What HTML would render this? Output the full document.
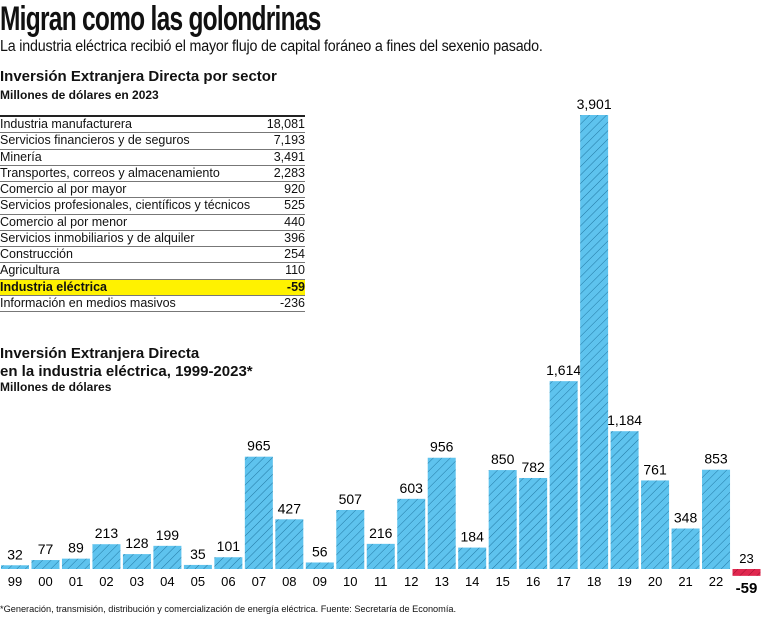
<!DOCTYPE html>
<html><head><meta charset="utf-8">
<style>
body{margin:0;width:762px;height:620px;overflow:hidden;background:#fff;font-family:"Liberation Sans",sans-serif;color:#111;position:relative}
.abs{position:absolute}
#title{left:0;top:2px;font-weight:bold;font-size:34px;letter-spacing:-1px;line-height:34px;transform:scaleX(0.72);transform-origin:0 0;white-space:nowrap}
#sub{left:0;top:38px;font-size:15.5px;letter-spacing:-0.2px;transform:scaleX(0.92);transform-origin:0 0;white-space:nowrap}
.h2{font-weight:bold;font-size:15px;line-height:18px;white-space:nowrap}
.h3{font-weight:bold;font-size:12px}
table{border-collapse:collapse;position:absolute;left:0;top:115px;width:305px;font-size:12.5px}
td{height:15.25px;padding:0;border-bottom:1px solid #777;line-height:15px}
tr:first-child td{border-top:2px solid #222}
td.v{text-align:right}
tr.hl td{background:#fff200;font-weight:bold}
</style></head><body>
<div id="title" class="abs">Migran como las golondrinas</div>
<div id="sub" class="abs">La industria eléctrica recibió el mayor flujo de capital foráneo a fines del sexenio pasado.</div>
<div class="abs h2" style="left:0;top:68px">Inversión Extranjera Directa por sector</div>
<div class="abs h3" style="left:0;top:88px">Millones de dólares en 2023</div>
<table>
<tr><td>Industria manufacturera</td><td class="v">18,081</td></tr>
<tr><td>Servicios financieros y de seguros</td><td class="v">7,193</td></tr>
<tr><td>Minería</td><td class="v">3,491</td></tr>
<tr><td>Transportes, correos y almacenamiento</td><td class="v">2,283</td></tr>
<tr><td>Comercio al por mayor</td><td class="v">920</td></tr>
<tr><td>Servicios profesionales, científicos y técnicos</td><td class="v">525</td></tr>
<tr><td>Comercio al por menor</td><td class="v">440</td></tr>
<tr><td>Servicios inmobiliarios y de alquiler</td><td class="v">396</td></tr>
<tr><td>Construcción</td><td class="v">254</td></tr>
<tr><td>Agricultura</td><td class="v">110</td></tr>
<tr class="hl"><td>Industria eléctrica</td><td class="v">-59</td></tr>
<tr><td>Información en medios masivos</td><td class="v">-236</td></tr>
</table>
<div class="abs h2" style="left:0;top:345px">Inversión Extranjera Directa<br>en la industria eléctrica, 1999-2023*</div>
<div class="abs h3" style="left:0;top:380px">Millones de dólares</div>
<div class="abs" style="left:0;top:604px;font-size:9.2px;white-space:nowrap">*Generación, transmisión, distribución y comercialización de energía eléctrica. Fuente: Secretaría de Economía.</div>
<svg id="chart" class="abs" style="left:0;top:0" width="762" height="620">
<defs>
<pattern id="hb" width="6" height="6" patternUnits="userSpaceOnUse" patternTransform="rotate(45)"><rect width="6" height="6" fill="#5ec3ee"/><line x1="0" y1="0" x2="0" y2="6" stroke="#2278a3" stroke-width="1"/></pattern>
<pattern id="hr" width="6" height="6" patternUnits="userSpaceOnUse" patternTransform="rotate(45)"><rect width="6" height="6" fill="#e0284f"/><line x1="0" y1="0" x2="0" y2="6" stroke="#a01030" stroke-width="1"/></pattern>
</defs>
</svg>
<script>
const years=["99","00","01","02","03","04","05","06","07","08","09","10","11","12","13","14","15","16","17","18","19","20","21","22","23"];
const values=[32,77,89,213,128,199,35,101,965,427,56,507,216,603,956,184,850,782,1614,3901,1184,761,348,853,-59];
const valueLabels=["32","77","89","213","128","199","35","101","965","427","56","507","216","603","956","184","850","782","1,614","3,901","1,184","761","348","853","-59"];
const svg=document.getElementById('chart');
const NS='http://www.w3.org/2000/svg';
const base=569, step=762/years.length, bw=28;
const yScale=v=>v*(454/3901);
const xScale=i=>i*step;
years.forEach((yr,i)=>{
  const v=values[i];const h=Math.abs(yScale(v));
  const r=document.createElementNS(NS,'rect');
  
  
  r.setAttribute('x',xScale(i)+1);r.setAttribute('width',bw);
  r.setAttribute('y',v>=0?base-h:base);r.setAttribute('height',h);
  r.setAttribute('fill',v>=0?'url(#hb)':'url(#hr)');
  svg.appendChild(r);
  const cx=xScale(i)+1+bw/2;
  const t=document.createElementNS(NS,'text');
  
  
  t.setAttribute('text-anchor','middle');t.setAttribute('font-size','14');
  t.setAttribute('font-family','Liberation Sans, sans-serif');
  if(v>=0){t.setAttribute('x',cx);t.setAttribute('y',base-h-6);}
  else{t.setAttribute('x',cx);t.setAttribute('y',base+24);t.setAttribute('font-weight','bold');t.setAttribute('font-size','15');}
  t.textContent=valueLabels[i];svg.appendChild(t);
  const yl=document.createElementNS(NS,'text');
  
  
  yl.setAttribute('text-anchor','middle');yl.setAttribute('font-size','13');
  yl.setAttribute('font-family','Liberation Sans, sans-serif');
  yl.setAttribute('x',cx);yl.setAttribute('y',v>=0?base+17:base-6);
  yl.textContent=yr;svg.appendChild(yl);
});
</script>
</body></html>
